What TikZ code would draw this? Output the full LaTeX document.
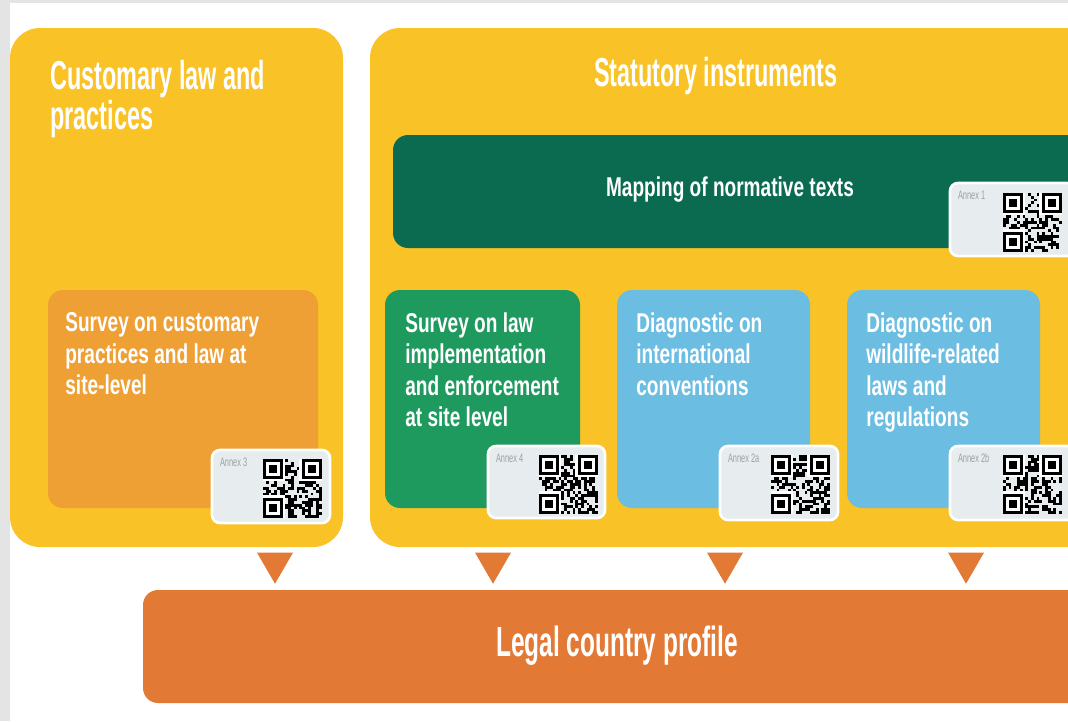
\documentclass[tikz,border=0pt]{standalone}
\usepackage{fontspec}
\setmainfont{Liberation Sans}
\newfontfamily\bodyfont[FakeStretch=0.70]{Liberation Sans}
\newfontfamily\titlefont[FakeStretch=0.58]{Liberation Sans}
\newfontfamily\annexfont[FakeStretch=0.6]{Liberation Sans}
\usetikzlibrary{fit,shapes.geometric,calc}
\definecolor{bggray}{HTML}{E4E4E4}
\definecolor{yel}{HTML}{F9C226}
\definecolor{orbox}{HTML}{EFA035}
\definecolor{dkgreen}{HTML}{0A6B50}
\definecolor{grn}{HTML}{1F9A5E}
\definecolor{blu}{HTML}{6BBDE2}
\definecolor{orbot}{HTML}{E27A36}
\definecolor{card}{HTML}{E7ECEE}
\definecolor{annexgray}{HTML}{9AA0A2}
\tikzset{
  panel/.style={inner sep=0pt, fill=yel, rounded corners=0.6cm},
  inbox/.style={inner sep=0pt, rounded corners=0.3cm},
  cardbox/.style={inner sep=0pt, fill=card, draw=white, line width=1.5pt, rounded corners=0.16cm},
  titletext/.style={text=white, inner sep=0pt, align=left, font=\titlefont\bfseries\fontsize{23}{20}\selectfont},
  bodytext/.style={text=white, inner sep=0pt, align=left, font=\bodyfont\bfseries\fontsize{15.5}{18}\selectfont},
  annexlbl/.style={text=annexgray, inner sep=0pt, anchor=north west, font=\annexfont\fontsize{7}{8}\selectfont},
  tri/.style={regular polygon, regular polygon sides=3, shape border rotate=180, fill=orbot, minimum size=0.83cm, inner sep=0pt},
  pics/qr/.style={code={
    \pgfmathsetseed{#1}
    \foreach \i in {0,...,20}{
      \foreach \j in {0,...,20}{
        \pgfmathrandominteger{\r}{0}{1}
        \ifnum\r=1 \fill[black] (\i*2.8,\j*2.8) rectangle ++(2.8,2.8);\fi
      }}
    \foreach \a/\b in {0/0,13/0,0/13}{\fill[white] (\a*2.8,\b*2.8) rectangle ++(8*2.8,8*2.8);}
    \foreach \a/\b in {0/0,14/0,0/14}{
      \fill[black] (\a*2.8,\b*2.8) rectangle ++(7*2.8,7*2.8);
      \fill[white] (\a*2.8+2.8,\b*2.8+2.8) rectangle ++(5*2.8,5*2.8);
      \fill[black] (\a*2.8+5.6,\b*2.8+5.6) rectangle ++(3*2.8,3*2.8);
    }
  }}
}
\begin{document}
\begin{tikzpicture}[x=0.02cm,y=-0.02cm]
\useasboundingbox (0,0) rectangle (1068,721);
\clip (0,0) rectangle (1068,721);
\fill[bggray] (0,0) rectangle (1068,721);
\fill[white] (10,3) rectangle (1068,721);

% main panels
\node[panel, fit={(10,28) (343,547)}] (cust) {};
\node[panel, fit={(370,28) (1110,547)}] (stat) {};

\node[titletext, anchor=north west] (custT) at (50,60) {Customary law and\\practices};
\node[titletext, anchor=center] (statT) at (716,76) {Statutory instruments};

% mapping
\node[inbox, fit={(393,135) (1100,248)}, fill=dkgreen] (map) {};
\node[bodytext, anchor=center] (mapT) at (730,190) {Mapping of normative texts};

% inner boxes
\node[inbox, fit={(48,290) (318,508)}, fill=orbox] (sv1) {};
\node[inbox, fit={(385,290) (580,508)}, fill=grn] (sv2) {};
\node[inbox, fit={(617,290) (810,508)}, fill=blu] (dg1) {};
\node[inbox, fit={(847,290) (1040,508)}, fill=blu] (dg2) {};

\node[bodytext, anchor=north west] (sv1T) at (65,312) {Survey on customary\\practices and law at\\site-level};
\node[bodytext, anchor=north west] (sv2T) at (405,312) {Survey on law\\implementation\\and enforcement\\at site level};
\node[bodytext, anchor=north west] (dg1T) at (636,312) {Diagnostic on\\international\\conventions};
\node[bodytext, anchor=north west] (dg2T) at (866,312) {Diagnostic on\\wildlife-related\\laws and\\regulations};

% annex cards
\node[cardbox, fit={(950,183) (1075,256)}] (an1) {};
\node[annexlbl] (an1L) at ($(an1.north west)+(9,9)$) {Annex 1};
\pic at (1003,193) {qr=11};

\node[cardbox, fit={(212,450) (330,523)}] (an3) {};
\node[annexlbl] (an3L) at ($(an3.north west)+(9,9)$) {Annex 3};
\pic at (263,459) {qr=23};

\node[cardbox, fit={(488,446) (605,518)}] (an4) {};
\node[annexlbl] (an4L) at ($(an4.north west)+(9,9)$) {Annex 4};
\pic at (539,455) {qr=37};

\node[cardbox, fit={(720,446) (838,520)}] (an2a) {};
\node[annexlbl] (an2aL) at ($(an2a.north west)+(9,9)$) {Annex 2a};
\pic at (771,455) {qr=41};

\node[cardbox, fit={(950,446) (1075,520)}] (an2b) {};
\node[annexlbl] (an2bL) at ($(an2b.north west)+(9,9)$) {Annex 2b};
\pic at (1003,455) {qr=59};

% triangles
\node[tri] (t1) at (275,563) {};
\node[tri] (t2) at (493,563) {};
\node[tri] (t3) at (725,563) {};
\node[tri] (t4) at (966,563) {};

% bottom
\node[inbox, fit={(143,590) (1110,703)}, fill=orbot] (lcp) {};
\node[titletext, anchor=center, font=\titlefont\bfseries\fontsize{24}{24}\selectfont] (lcpT) at (617,646) {Legal country profile};
\end{tikzpicture}
\end{document}
